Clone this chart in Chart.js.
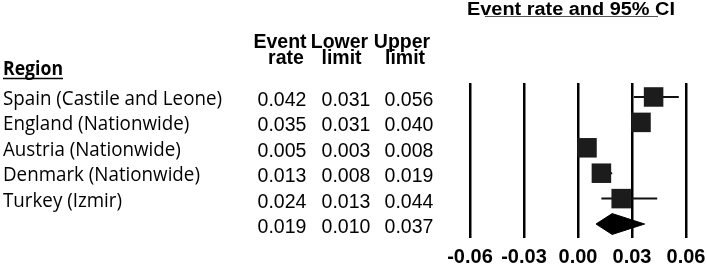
<!DOCTYPE html>
<html>
<head>
<meta charset="utf-8">
<script src="https://cdn.jsdelivr.net/npm/chart.js@4"></script>
<style>
  body { margin: 0; background: #ffffff; }
  canvas { display: block; }
</style>
</head>
<body>
<canvas id="forest" width="707" height="269"></canvas>
<script>
// study rows, top to bottom (last row = pooled estimate, no label)
var regions = ["Spain (Castile and Leone)", "England (Nationwide)", "Austria (Nationwide)", "Denmark (Nationwide)", "Turkey (Izmir)", ""];
var eventRate = [0.042, 0.035, 0.005, 0.013, 0.024, 0.019];
var lowerLimit = [0.031, 0.031, 0.003, 0.008, 0.013, 0.010];
var upperLimit = [0.056, 0.040, 0.008, 0.019, 0.044, 0.037];
var tickValues = [-0.06, -0.03, 0.00, 0.03, 0.06];
var tickLabels = ["-0.06", "-0.03", "0.00", "0.03", "0.06"];

var pooledRow = eventRate.length - 1;

// squares for the single studies
var squarePoints = [];
for (var i = 0; i < pooledRow; i++) {
  squarePoints.push({x: eventRate[i], y: i});
}

// whiskers, one segment per study, broken by nulls
var whiskerPoints = [];
for (var i = 0; i < pooledRow; i++) {
  whiskerPoints.push({x: lowerLimit[i], y: i});
  whiskerPoints.push({x: upperLimit[i], y: i});
  whiskerPoints.push({x: null, y: null});
}

// pooled diamond
var dh = 0.41;
var diamondPoints = [
  {x: lowerLimit[pooledRow], y: pooledRow},
  {x: eventRate[pooledRow], y: pooledRow - dh},
  {x: upperLimit[pooledRow], y: pooledRow},
  {x: eventRate[pooledRow], y: pooledRow + dh},
  {x: lowerLimit[pooledRow], y: pooledRow}
];

var ARIAL = '"Liberation Sans", Arial, sans-serif';
var CALIBRI = '"Open Sans", Lato, sans-serif';

function squeezeText(ctx, txt, x, y, sx) {
  ctx.save();
  ctx.translate(x, y);
  ctx.scale(sx, 1);
  ctx.fillText(txt, 0, 0);
  ctx.restore();
}

var tablePlugin = {
  id: 'tableText',
  afterDraw: function(chart) {
    var ctx = chart.ctx;
    var yScale = chart.scales.y;
    ctx.save();
    ctx.fillStyle = '#000000';
    ctx.textBaseline = 'alphabetic';

    // title
    ctx.font = 'bold 18px ' + ARIAL;
    ctx.textAlign = 'left';
    var tw = ctx.measureText('Event rate and 95% CI').width;
    squeezeText(ctx, 'Event rate and 95% CI', 467, 14.5, 208 / tw);
    ctx.strokeStyle = '#555555';
    ctx.lineWidth = 1;
    ctx.beginPath();
    ctx.moveTo(485, 16.5);
    ctx.lineTo(658, 16.5);
    ctx.stroke();

    // column headers
    ctx.font = 'bold 19.5px ' + ARIAL;
    ctx.textAlign = 'center';
    ctx.fillText('Event', 280, 48);
    ctx.fillText('rate', 286, 64);
    ctx.fillText('Lower', 339.5, 48);
    ctx.fillText('limit', 341.5, 64);
    ctx.fillText('Upper', 402, 48);
    ctx.fillText('limit', 405, 64);

    // region header
    ctx.font = 'bold 19.5px ' + CALIBRI;
    ctx.textAlign = 'left';
    var rw = ctx.measureText('Region').width;
    squeezeText(ctx, 'Region', 3, 74.5, 60 / rw);
    ctx.strokeStyle = '#000000';
    ctx.lineWidth = 1.3;
    ctx.beginPath();
    ctx.moveTo(3, 78.5);
    ctx.lineTo(63, 78.5);
    ctx.stroke();

    // region labels
    ctx.font = '19.5px ' + CALIBRI;
    var sx = 219 / ctx.measureText(regions[0]).width;
    for (var i = 0; i < regions.length; i++) {
      var yy = yScale.getPixelForValue(i) + 8;
      squeezeText(ctx, regions[i], 3, yy, sx);
    }

    // numbers
    ctx.font = '19.5px ' + ARIAL;
    ctx.textAlign = 'center';
    for (var i = 0; i < eventRate.length; i++) {
      var yy = yScale.getPixelForValue(i) + 9;
      ctx.fillText(eventRate[i].toFixed(3), 282, yy);
      ctx.fillText(lowerLimit[i].toFixed(3), 346, yy);
      ctx.fillText(upperLimit[i].toFixed(3), 409, yy);
    }
    ctx.restore();
  }
};

var canvas = document.getElementById('forest');
var ctx = canvas.getContext('2d');

var chart = new Chart(ctx, {
  type: 'scatter',
  data: {
    datasets: [
      {
        data: squarePoints,
        pointStyle: 'rect',
        pointRadius: 13.8,
        pointHoverRadius: 13.8,
        backgroundColor: '#1c1c1c',
        borderWidth: 0
      },
      {
        type: 'line',
        data: diamondPoints,
        borderColor: '#000000',
        backgroundColor: '#000000',
        borderWidth: 1,
        pointRadius: 0,
        fill: 'shape',
        tension: 0
      },
      {
        type: 'line',
        data: whiskerPoints,
        borderColor: '#111111',
        borderWidth: 2,
        pointRadius: 0,
        spanGaps: false,
        fill: false,
        tension: 0
      }
    ]
  },
  options: {
    responsive: false,
    animation: false,
    devicePixelRatio: 1,
    layout: { padding: { left: 470, right: 21, top: 83, bottom: 0 } },
    plugins: {
      legend: { display: false },
      tooltip: { enabled: false }
    },
    scales: {
      x: {
        type: 'linear',
        min: -0.06,
        max: 0.06,
        afterBuildTicks: function(axis) {
          axis.ticks = tickValues.map(function(v) { return {value: v}; });
        },
        afterFit: function(axis) {
          axis.height = 31;
          axis.paddingLeft = 0;
          axis.paddingRight = 0;
        },
        grid: { color: '#000000', lineWidth: 2.5, drawTicks: false },
        border: { display: false },
        ticks: {
          padding: 7,
          color: '#000000',
          font: { family: ARIAL, size: 20, weight: 'bold' },
          callback: function(v, idx) { return tickLabels[idx]; }
        }
      },
      y: {
        type: 'linear',
        display: false,
        reverse: true,
        min: -0.55,
        max: 5.55
      }
    }
  },
  plugins: [tablePlugin]
});
</script>
</body>
</html>
